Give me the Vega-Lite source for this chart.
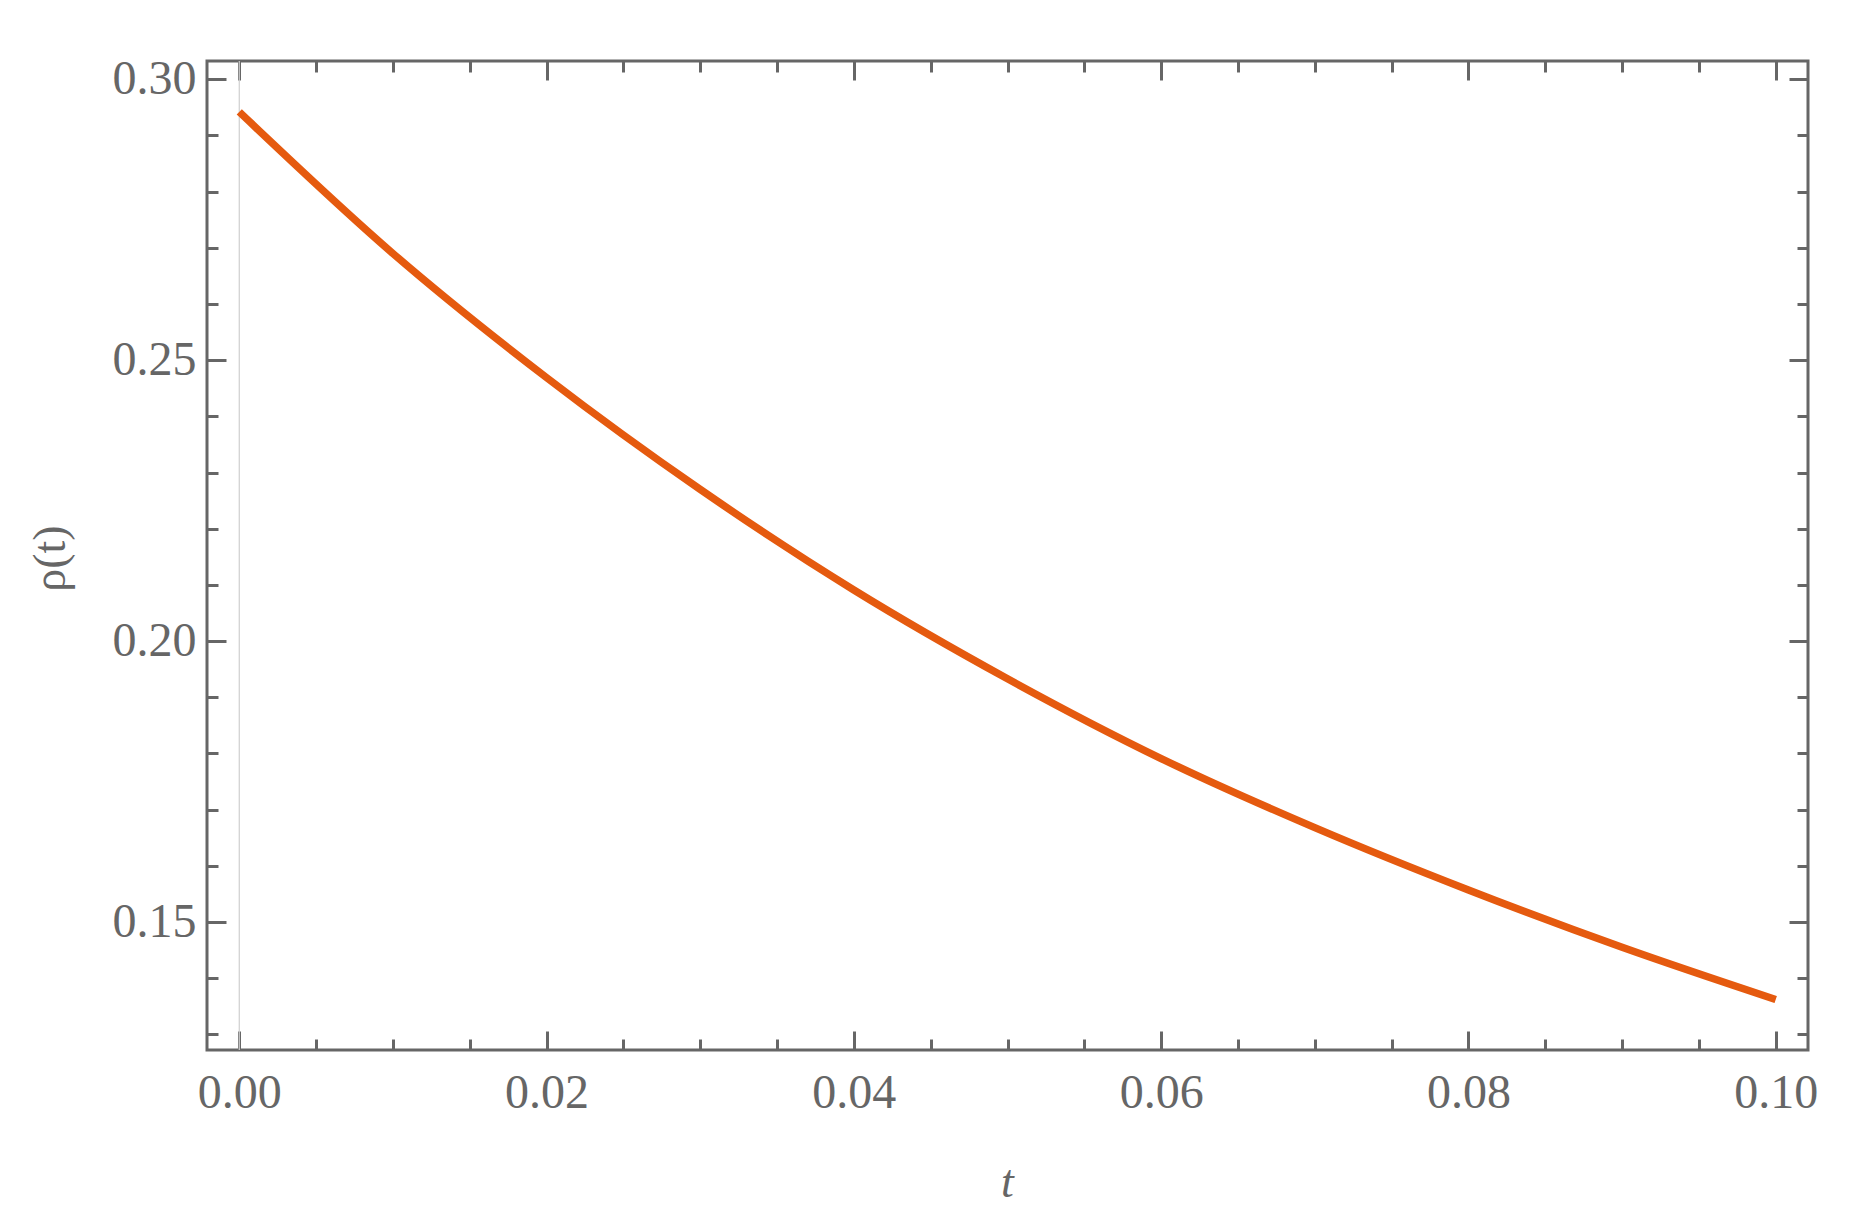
{
  "$schema": "https://vega.github.io/schema/vega-lite/v6.json",
  "width": 1601,
  "height": 989,
  "autosize": "none",
  "padding": {"left": 207, "top": 61, "right": 52, "bottom": 177},
  "background": "white",
  "config": {
    "view": {"stroke": "#666666", "strokeWidth": 3},
    "axis": {
      "domain": false,
      "grid": false,
      "labelFont": "Liberation Serif",
      "labelFontSize": 48,
      "labelColor": "#666666",
      "tickColor": "#666666",
      "tickWidth": 3,
      "titleFont": "Liberation Serif",
      "titleColor": "#666666",
      "titleFontSize": 46,
      "titleFontWeight": "normal"
    }
  },
  "layer": [
    {
      "data": {"values": [{"t": 0}]},
      "mark": {"type": "rule", "color": "#cfcfcf", "strokeWidth": 1.2},
      "encoding": {
        "x": {
          "field": "t", "type": "quantitative",
          "scale": {"domain": [-0.0021, 0.1021], "nice": false, "zero": false},
          "axis": {
            "orient": "top", "title": null, "labels": false,
            "values": [0, 0.005, 0.01, 0.015, 0.02, 0.025, 0.03, 0.035, 0.04, 0.045, 0.05, 0.055, 0.06, 0.065, 0.07, 0.075, 0.08, 0.085, 0.09, 0.095, 0.1],
            "tickSize": {"condition": {"test": "abs(datum.value*50 - round(datum.value*50)) < 0.001", "value": -19}, "value": -11}
          }
        },
        "y": {
          "datum": 0.12722, "type": "quantitative",
          "scale": {"domain": [0.12722, 0.30326], "nice": false, "zero": false},
          "axis": {
            "orient": "right", "title": null, "labels": false,
            "values": [0.13, 0.14, 0.15, 0.16, 0.17, 0.18, 0.19, 0.2, 0.21, 0.22, 0.23, 0.24, 0.25, 0.26, 0.27, 0.28, 0.29, 0.3],
            "tickSize": {"condition": {"test": "abs(datum.value*20 - round(datum.value*20)) < 0.001", "value": -19}, "value": -11}
          }
        },
        "y2": {"datum": 0.30326}
      }
    },
    {
      "data": {
        "values": [
          {"t": 0.00, "rho": 0.2942},
          {"t": 0.01, "rho": 0.2690},
          {"t": 0.02, "rho": 0.2469},
          {"t": 0.03, "rho": 0.2270},
          {"t": 0.04, "rho": 0.2091},
          {"t": 0.05, "rho": 0.1933},
          {"t": 0.06, "rho": 0.1791},
          {"t": 0.07, "rho": 0.1668},
          {"t": 0.08, "rho": 0.1557},
          {"t": 0.09, "rho": 0.1455},
          {"t": 0.10, "rho": 0.1362}
        ]
      },
      "mark": {"type": "line", "color": "#E55A0F", "strokeWidth": 7.5, "interpolate": "monotone"},
      "encoding": {
        "x": {
          "field": "t", "type": "quantitative",
          "scale": {"domain": [-0.0021, 0.1021], "nice": false, "zero": false},
          "axis": {
            "orient": "bottom",
            "title": "t",
            "titleFontStyle": "italic",
            "titleX": 800,
            "titleY": 146,
            "titleBaseline": "alphabetic",
            "titleAlign": "center",
            "labelPadding": 38,
            "labelBaseline": "top",
            "values": [0, 0.005, 0.01, 0.015, 0.02, 0.025, 0.03, 0.035, 0.04, 0.045, 0.05, 0.055, 0.06, 0.065, 0.07, 0.075, 0.08, 0.085, 0.09, 0.095, 0.1],
            "labelExpr": "abs(datum.value*50 - round(datum.value*50)) < 0.001 ? format(datum.value, '.2f') : ''",
            "tickSize": {"condition": {"test": "abs(datum.value*50 - round(datum.value*50)) < 0.001", "value": -19}, "value": -11}
          }
        },
        "y": {
          "field": "rho", "type": "quantitative",
          "scale": {"domain": [0.12722, 0.30326], "nice": false, "zero": false},
          "axis": {
            "orient": "left",
            "title": "ρ(t)",
            "titleX": -143,
            "titleY": 497,
            "titleAngle": -90,
            "titleBaseline": "alphabetic",
            "titleAlign": "center",
            "labelPadding": 30,
            "labelBaseline": "middle",
            "values": [0.13, 0.14, 0.15, 0.16, 0.17, 0.18, 0.19, 0.2, 0.21, 0.22, 0.23, 0.24, 0.25, 0.26, 0.27, 0.28, 0.29, 0.3],
            "labelExpr": "abs(datum.value*20 - round(datum.value*20)) < 0.001 ? format(datum.value, '.2f') : ''",
            "tickSize": {"condition": {"test": "abs(datum.value*20 - round(datum.value*20)) < 0.001", "value": -19}, "value": -11}
          }
        }
      }
    }
  ],
  "resolve": {"axis": {"x": "independent", "y": "independent"}}
}
